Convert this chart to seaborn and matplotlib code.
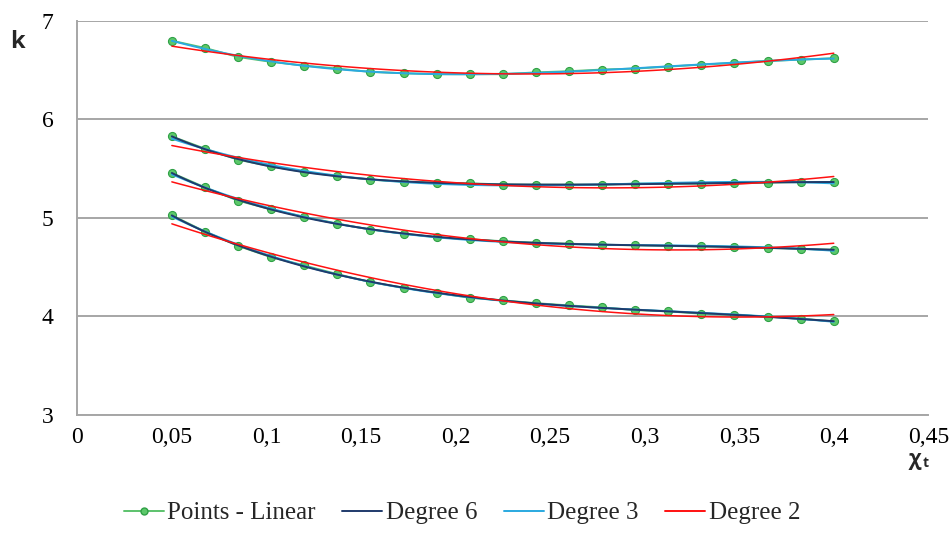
import numpy as np
import pandas as pd
import seaborn as sns
import matplotlib
matplotlib.use("Agg")
import matplotlib.pyplot as plt
from matplotlib.lines import Line2D

# ---- data ----
x_vals = [0.05, 0.0675, 0.085, 0.1025, 0.12, 0.1375, 0.155, 0.1725, 0.19, 0.2075,
          0.225, 0.2425, 0.26, 0.2775, 0.295, 0.3125, 0.33, 0.3475, 0.365, 0.3825, 0.4]

k_series1 = [6.797, 6.723, 6.632, 6.582, 6.544, 6.514, 6.480, 6.467, 6.457, 6.457,
             6.457, 6.475, 6.487, 6.504, 6.514, 6.534, 6.554, 6.571, 6.591, 6.605, 6.619]
k_series2 = [5.825, 5.700, 5.589, 5.521, 5.464, 5.423, 5.386, 5.366, 5.356, 5.349,
             5.337, 5.335, 5.335, 5.335, 5.345, 5.345, 5.345, 5.356, 5.356, 5.362, 5.362]
k_series3 = [5.454, 5.308, 5.173, 5.085, 5.008, 4.940, 4.879, 4.839, 4.801, 4.781,
             4.761, 4.746, 4.736, 4.725, 4.720, 4.714, 4.708, 4.703, 4.694, 4.684, 4.674]
k_series4 = [5.024, 4.859, 4.714, 4.599, 4.515, 4.427, 4.346, 4.289, 4.238, 4.187,
             4.161, 4.132, 4.109, 4.089, 4.062, 4.049, 4.025, 4.014, 3.995, 3.975, 3.947]

series_list = [k_series1, k_series2, k_series3, k_series4]
deg6_on = [False, True, True, True]

x_ticks = [0, 0.05, 0.1, 0.15, 0.2, 0.25, 0.3, 0.35, 0.4, 0.45]
x_tick_labels = ["0", "0,05", "0,1", "0,15", "0,2", "0,25", "0,3", "0,35", "0,4", "0,45"]
y_ticks = [3, 4, 5, 6, 7]
legend_labels = ["Points - Linear", "Degree 6", "Degree 3", "Degree 2"]

# ---- style ----
c_pts_line = "#5CC26C"
c_pts_face = "#5CC86A"
c_pts_edge = "#2FA046"
c_deg6 = "#1F3A6B"
c_deg3 = "#2AA9E0"
c_deg2 = "#FF1010"
grid_c = "#A6A6A6"

sns.set_theme(style="white")
plt.rcParams["font.family"] = ["Liberation Serif", "DejaVu Serif"]

fig = plt.figure(figsize=(9.53, 5.42), dpi=100)
ax = fig.add_axes([0.0811, 0.2349, 0.9741 - 0.0811, 0.9618 - 0.2349])

for i, ys in enumerate(series_list):
    df = pd.DataFrame({"x": x_vals, "k": ys})
    sns.lineplot(data=df, x="x", y="k", ax=ax, color=c_pts_line, lw=1.4,
                 marker="o", markersize=5.8, markerfacecolor=c_pts_face,
                 markeredgecolor=c_pts_edge, markeredgewidth=0.8, zorder=3)
    sns.regplot(data=df, x="x", y="k", order=3, ci=None, scatter=False, ax=ax,
                line_kws=dict(color=c_deg3, lw=1.4, zorder=4))
    if deg6_on[i]:
        sns.regplot(data=df, x="x", y="k", order=6, ci=None, scatter=False, ax=ax,
                    line_kws=dict(color=c_deg6, lw=1.4, zorder=5))
    sns.regplot(data=df, x="x", y="k", order=2, ci=None, scatter=False, ax=ax,
                line_kws=dict(color=c_deg2, lw=1.1, zorder=6))

ax.set_xlim(0, 0.45)
ax.set_ylim(3, 7)
ax.set_xticks(x_ticks)
ax.set_xticklabels(x_tick_labels)
ax.set_yticks(y_ticks)
ax.set_xlabel("")
ax.set_ylabel("")
ax.tick_params(axis="both", labelsize=17, colors="black", length=5, width=1.3,
               direction="out")
ax.tick_params(axis="x", color=grid_c, pad=4)
ax.tick_params(axis="y", color=grid_c, pad=12)
ax.yaxis.grid(True, color=grid_c, lw=1.4)
ax.xaxis.grid(False)
ax.set_axisbelow(True)
for s in ["top", "right"]:
    ax.spines[s].set_visible(False)
for s in ["left", "bottom"]:
    ax.spines[s].set_color(grid_c)
    ax.spines[s].set_linewidth(1.4)

fig.text(17 / 953, 1 - 42 / 542, "k", fontsize=17, fontweight="bold",
         family=["Open Sans", "DejaVu Sans"], ha="center", va="center")
fig.text(915 / 953, 1 - 459 / 542, "χ", fontsize=15, fontweight="bold",
         family=["Open Sans", "DejaVu Sans"], ha="center", va="center")
fig.text(926 / 953, 1 - 463 / 542, "t", fontsize=10, fontweight="bold",
         family=["Open Sans", "DejaVu Sans"], ha="center", va="center")

handles = [
    Line2D([], [], color=c_pts_line, lw=1.4, marker="o", markersize=5,
           markerfacecolor=c_pts_face, markeredgecolor=c_pts_edge),
    Line2D([], [], color=c_deg6, lw=1.4),
    Line2D([], [], color=c_deg3, lw=1.4),
    Line2D([], [], color=c_deg2, lw=1.4),
]
fig.legend(handles, legend_labels, loc="center", bbox_to_anchor=(462 / 953, 1 - 513 / 542),
           ncol=4, frameon=False, fontsize=18, handlelength=1.6, handletextpad=0.15,
           columnspacing=1.05)

fig.savefig("out.png", dpi=100)
